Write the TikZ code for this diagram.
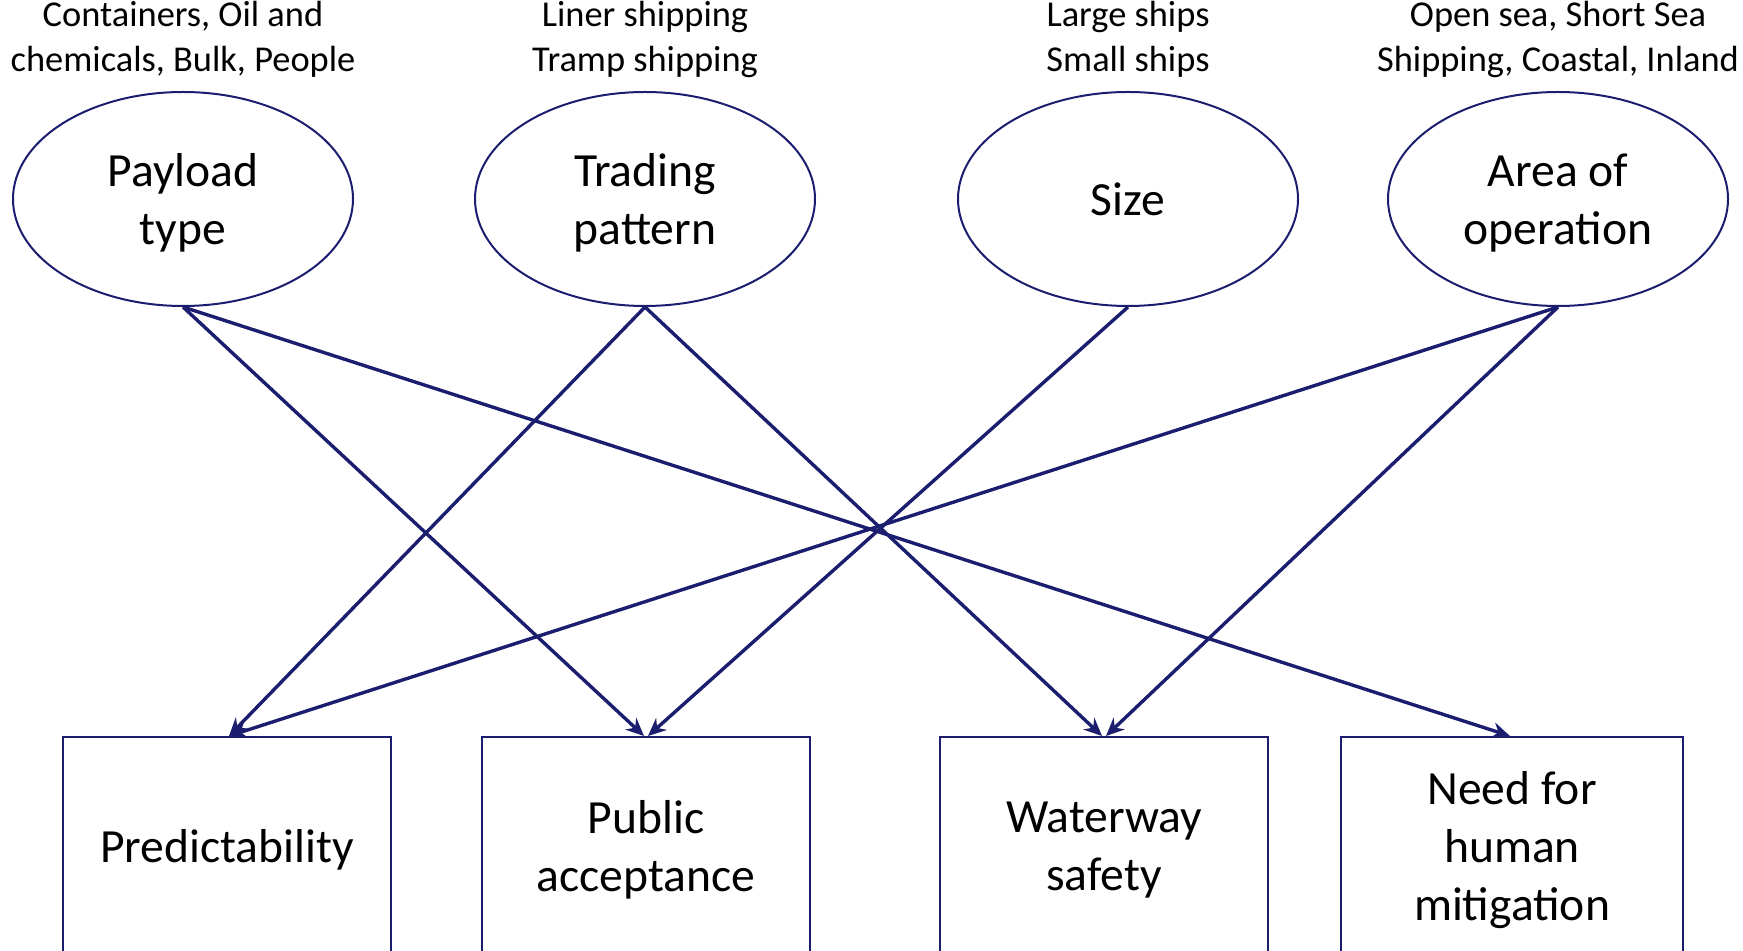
\documentclass[tikz,border=0pt]{standalone}
\usepackage{fontspec}
\setmainfont{Carlito}
\usetikzlibrary{arrows.meta, shapes, positioning}
\usepackage{xcolor}
\definecolor{navy}{RGB}{27,29,110}

\begin{document}
\begin{tikzpicture}[x=0.5pt, y=-0.5pt,
    factor/.style={draw=navy, line width=1pt, ellipse, minimum width=170pt, minimum height=107pt,
      inner sep=0pt, text depth=0pt, align=center, font=\fontsize{23.8}{29}\selectfont},
    outcome/.style={draw=navy, line width=1pt, rectangle, minimum width=164pt, minimum height=109pt,
      inner sep=0pt, text depth=0pt, align=center, font=\fontsize{23.8}{29}\selectfont},
    values/.style={align=center, inner sep=0pt, text depth=0pt, font=\fontsize{18.2}{22.4}\selectfont},
    link/.style={draw=navy, line width=1.7pt, -{Stealth[length=9pt, width=8pt]}}]
  \useasboundingbox (0,0) rectangle (1743,951);

  % factors (ellipses)
  \node[factor] (payload) at (183,199) {Payload\\type};
  \node[factor] (trading) at (645,199) {Trading\\pattern};
  \node[factor] (size) at (1128,199) {Size};
  \node[factor] (area) at (1558,199) {Area of\\operation};

  % possible values above the factors
  \node[values] (payloadval) at (183,36.5) {Containers, Oil and\\chemicals, Bulk, People};
  \node[values] (tradingval) at (645,36.5) {Liner shipping\\Tramp shipping};
  \node[values] (sizeval) at (1128,36.5) {Large ships\\Small ships};
  \node[values] (areaval) at (1558,36.5) {Open sea, Short Sea\\Shipping, Coastal, Inland};

  % outcomes (boxes)
  \node[outcome] (predict) at (227,846) {Predictability};
  \node[outcome] (public) at (646,846) {Public\\acceptance};
  \node[outcome] (waterway) at (1104,846) {Waterway\\safety};
  \node[outcome, minimum width=171pt] (need) at (1512,846) {Need for\\human\\mitigation};

  % influences
  \draw[link] (payload.south) -- ([xshift=-1pt]public.north);
  \draw[link] (payload.south) -- ([xshift=-1pt]need.north);
  \draw[link] (trading.south) -- ([xshift=1pt]predict.north);
  \draw[link] (trading.south) -- ([xshift=-1pt]waterway.north);
  \draw[link] (size.south) -- ([xshift=1pt]public.north);
  \draw[link] (area.south) -- ([xshift=1pt]predict.north);
  \draw[link] (area.south) -- ([xshift=1pt]waterway.north);
\end{tikzpicture}
\end{document}
